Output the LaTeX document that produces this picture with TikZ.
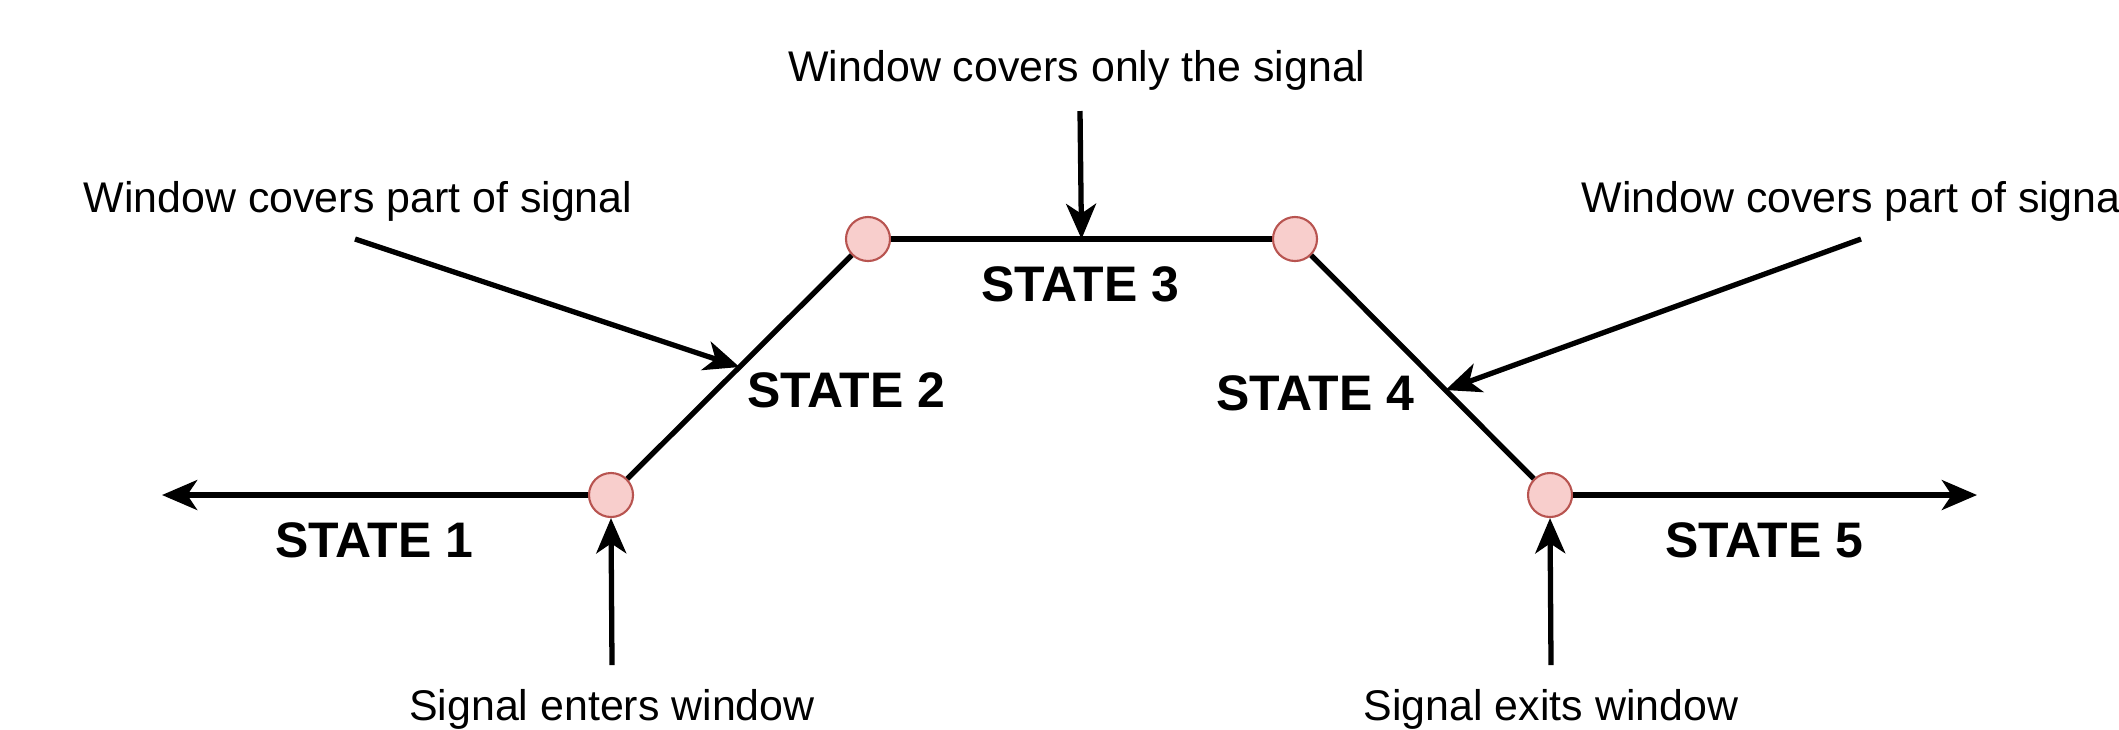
\documentclass[tikz,border=0pt]{standalone}
\usepackage{fontspec}
\setmainfont{Liberation Sans}
\usepackage{tikz}
\usetikzlibrary{arrows.meta}
\usetikzlibrary{calc}
\definecolor{dotfill}{HTML}{F8CECC}
\definecolor{dotline}{HTML}{B85450}
\tikzset{>={Stealth[length=10pt,width=8.5pt,inset=2.8pt]}}

\begin{document}
\begin{tikzpicture}[x=0.01cm,y=-0.01cm,line join=round,
	dot/.style={circle,draw=dotline,fill=dotfill,line width=0.6pt,minimum size=0.44cm,inner sep=0pt},
	lbl/.style={inner sep=0pt,font=\fontsize{12.2}{14}\selectfont},
	st/.style={inner sep=0pt,font=\fontsize{14.2}{16}\selectfont\bfseries},
	sig/.style={line width=1.5pt}]
			\useasboundingbox (0,0) rectangle (2119,729);
			% the four corners of the window path
			\node[dot] (c1) at (611,495) {};
			\node[dot] (c2) at (868,239) {};
			\node[dot] (c3) at (1295,239) {};
			\node[dot] (c4) at (1550,495) {};
			\coordinate (lend) at (162,495);
			\coordinate (rend) at (1977,495);
			\draw[sig,<-] (lend) -- (c1);
			\draw[sig] (c1) -- (c2);
			\draw[sig] (c2) -- (c3);
			\draw[sig] (c3) -- (c4);
			\draw[sig,->] (c4) -- (rend);
			% state labels
			\node[st] (s1) at (374,540) {STATE 1};
			\node[st] (s2) at (846,390) {STATE 2};
			\node[st] (s3) at (1080,284) {STATE 3};
			\node[st] (s4) at (1315,393) {STATE 4};
			\node[st] (s5) at (1764,540) {STATE 5};
			% notes and their arrows
			\node[lbl] (ntop) at (1077,70) {Window covers only the signal};
			\node[lbl] (nleft) at (358,201) {Window covers part of signal};
			\node[lbl,anchor=west] (nright) at (1581,201) {Window covers part of signal};
			\node[lbl] (nin) at (612,709) {Signal enters window};
			\node[lbl] (nout) at (1551,709) {Signal exits window};
			\coordinate (atop) at (1080,111);
			\coordinate (aleft) at (355,239);
			\coordinate (aright) at (1861,239);
			\coordinate (ain) at (612,665);
			\coordinate (aout) at (1551,665);
			\draw[sig,->] (atop) -- ($(c2)!0.5!(c3)$);
			\draw[sig,->] (aleft) -- ($(c1)!0.5!(c2)$);
			\draw[sig,->] (aright) -- ($(c3)!0.59!(c4)$);
			\draw[sig,->] (ain) -- (c1.south);
			\draw[sig,->] (aout) -- (c4.south);
			\end{tikzpicture}
\end{document}
